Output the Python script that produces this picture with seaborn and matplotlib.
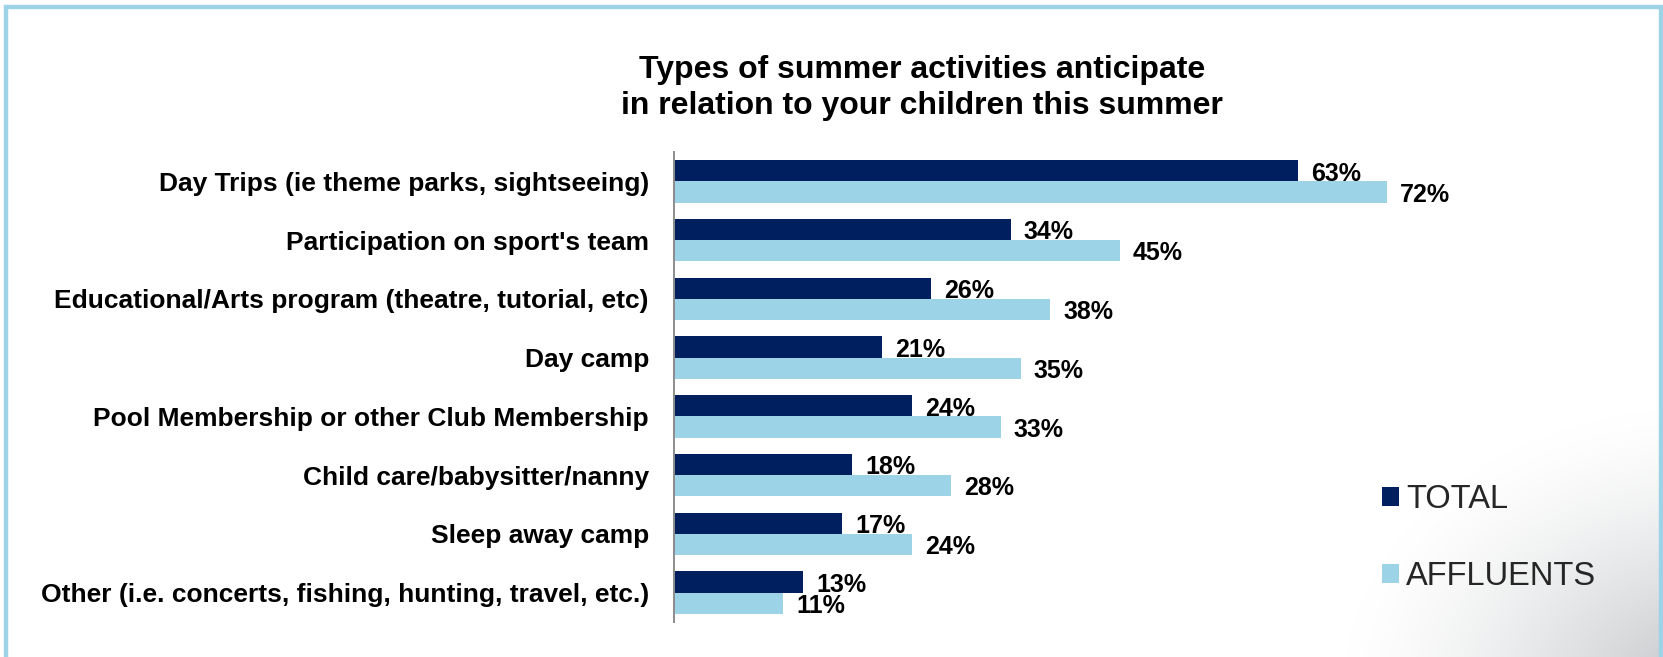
import numpy as np
import pandas as pd
import matplotlib
matplotlib.use("Agg")
import matplotlib.pyplot as plt
from matplotlib.patches import Rectangle
import seaborn as sns

categories = [
    "Day Trips (ie theme parks, sightseeing)",
    "Participation on sport's team",
    "Educational/Arts program (theatre, tutorial, etc)",
    "Day camp",
    "Pool Membership or other Club Membership",
    "Child care/babysitter/nanny",
    "Sleep away camp",
    "Other (i.e. concerts, fishing, hunting, travel, etc.)",
]
total = [63, 34, 26, 21, 24, 18, 17, 13]
affluents = [72, 45, 38, 35, 33, 28, 24, 11]
series_names = ["TOTAL", "AFFLUENTS"]

title = "Types of summer activities anticipate\nin relation to your children this summer"

NAVY = "#001F5F"
SKY = "#9DD3E6"

df = pd.DataFrame({
    "activity": categories * 2,
    "group": [series_names[0]] * len(categories) + [series_names[1]] * len(categories),
    "pct": total + affluents,
})

sns.set_theme(style="white")
plt.rcParams["font.family"] = ["Liberation Sans", "DejaVu Sans"]

W, H = 1663, 657
fig = plt.figure(figsize=(W / 100, H / 100), dpi=100)
fig.patch.set_facecolor("white")

# soft grey haze in the lower-right corner of the slide
bg = fig.add_axes([0, 0, 1, 1], zorder=-10)
yy, xx = np.mgrid[0:H, 0:W]
d = np.sqrt(((xx - (W + 40)) / 360.0) ** 2 + ((yy - (H + 30)) / 280.0) ** 2)
shade = np.clip(1 - d, 0, 1) ** 1.4 * 0.24
img = np.ones((H, W, 3)) - shade[..., None] * np.array([1.0, 0.95, 0.9])
bg.imshow(img, aspect="auto", extent=[0, 1, 0, 1], origin="upper")
bg.set_axis_off()

ax = fig.add_axes([674 / W, 1 - 622 / H, 806 / W, 470 / H])
ax.set_facecolor((1, 1, 1, 0))

sns.barplot(
    data=df, y="activity", x="pct", hue="group",
    hue_order=series_names, palette=[NAVY, SKY],
    orient="h", width=0.72, saturation=1, ax=ax,
    edgecolor="none",
)

ax.set_xlim(0, 806 / 9.9)
ax.set_ylim(len(categories) - 0.5, -0.5)
ax.set_xlabel("")
ax.set_ylabel("")
ax.set_xticks([])
ax.tick_params(axis="y", length=0, pad=18)
for lbl in ax.get_yticklabels():
    lbl.set_fontsize(19)
    lbl.set_fontweight("bold")
    lbl.set_color("black")

for side in ["top", "right", "bottom"]:
    ax.spines[side].set_visible(False)
ax.spines["left"].set_color("#8c8c8c")
ax.spines["left"].set_linewidth(1.4)

for cont in ax.containers:
    labels = ax.bar_label(cont, fmt="%d%%", padding=9.5, fontsize=18,
                          fontweight="bold", color="black")
    for t in labels:
        t.set_y(-2)

handles, labels = ax.get_legend_handles_labels()
if ax.legend_:
    ax.legend_.remove()
fig.legend(
    handles, labels, loc="upper left",
    bbox_to_anchor=(1369 / W, 1 - 471 / H),
    frameon=False, fontsize=23.5, handlelength=0.52, handleheight=0.52,
    handletextpad=0.22, labelspacing=1.42, borderaxespad=0,
)

fig.text(922 / W, 1 - 55 / H, title, ha="center", va="top",
         fontsize=23, fontweight="bold", color="black", linespacing=1.26)

# slide frame
fig.patches.append(Rectangle((6 / W, -0.1), 1655 / W, 1.1 - 7 / H,
                             transform=fig.transFigure, fill=False,
                             edgecolor="#9DD3E6", linewidth=3.2,
                             clip_on=False, zorder=20))

fig.savefig("out.png", dpi=100)
